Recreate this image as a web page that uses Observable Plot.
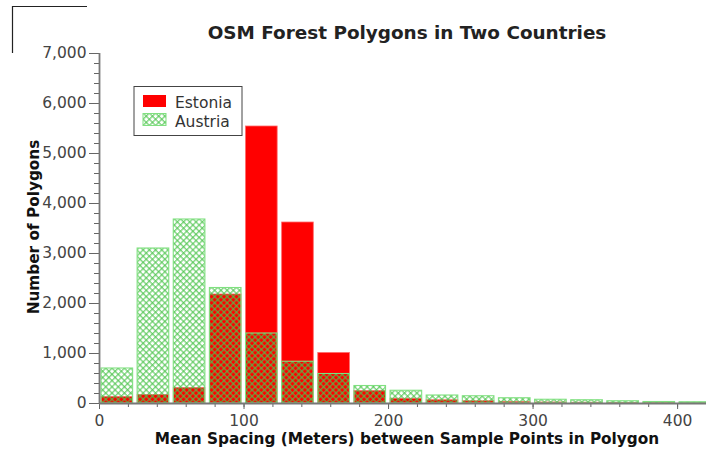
<!DOCTYPE html>
<html>
<head>
<meta charset="utf-8">
<script src="https://cdn.jsdelivr.net/npm/d3@7"></script>
<script src="https://cdn.jsdelivr.net/npm/@observablehq/plot@0.6"></script>
<style>
  body { margin: 0; background: #fff; }
  #wrap { position: relative; width: 706px; height: 451px; overflow: hidden; }
  #wrap > svg { position: absolute; left: 0; top: 0; }
</style>
</head>
<body>
<div id="wrap"></div>
<script>
// ---- data ----
const binStarts = [0, 25, 50, 75, 100, 125, 150, 175, 200, 225, 250, 275, 300, 325, 350, 375, 400];
const binWidth = 25;
const estonia = [130, 170, 310, 2180, 5540, 3620, 1010, 250, 95, 65, 45, 30, 20, 15, 10, 8, 5];
const austria = [700, 3100, 3680, 2310, 1400, 835, 590, 350, 255, 160, 145, 105, 75, 65, 45, 30, 25];
const seriesNames = ["Estonia", "Austria"];
const yMajorTicks = [0, 1000, 2000, 3000, 4000, 5000, 6000, 7000];
const yMinorTicks = d3.range(0, 7001, 200);
const xMajorTicks = [0, 100, 200, 300, 400];
const xMinorTicks = d3.range(0, 421, 20);

const table = binStarts.map((x0, i) => ({x1: x0, x2: x0 + binWidth, estonia: estonia[i], austria: austria[i]}));

const hatchGreen = "#4cc44c";

function makePattern(defsSel, id) {
  const p = defsSel.append("pattern")
    .attr("id", id)
    .attr("width", 4.4).attr("height", 4.4)
    .attr("patternUnits", "userSpaceOnUse")
    .attr("patternTransform", "rotate(45)");
  p.append("rect").attr("x", 0).attr("y", 0).attr("width", 4.4).attr("height", 1.4)
    .attr("fill", hatchGreen).attr("fill-opacity", 0.72);
  p.append("rect").attr("x", 0).attr("y", 0).attr("width", 1.4).attr("height", 4.4)
    .attr("fill", hatchGreen).attr("fill-opacity", 0.72);
}

const defsMark = () => {
  const d = d3.create("svg:defs");
  makePattern(d, "hatch");
  return d.node();
};

const chart = Plot.plot({
  width: 706,
  height: 451,
  marginTop: 53,
  marginBottom: 48,
  marginLeft: 99,
  marginRight: 0,
  x: {domain: [0, 420]},
  y: {domain: [0, 7000]},
  style: {fontFamily: "DejaVu Sans", fontSize: "15.5px", color: "#555", background: "transparent", overflow: "visible"},
  marks: [
    defsMark,
    Plot.rectY(table, {x1: "x1", x2: "x2", y: "estonia", fill: "#ff0000", stroke: "#ff6a6a", strokeWidth: 0.8, insetLeft: 2, insetRight: 2.5}),
    Plot.rectY(table, {x1: "x1", x2: "x2", y: "austria", fill: "url(#hatch)", stroke: "#80e080", strokeWidth: 1.1, insetLeft: 2, insetRight: 2.5}),
    Plot.axisY({ticks: yMinorTicks, tickSize: 5, tickFormat: () => "", label: null, stroke: "#666"}),
    Plot.axisY({ticks: yMajorTicks, tickSize: 10, tickPadding: 3, tickFormat: d3.format(","), label: null, stroke: "#666", fill: "#444"}),
    Plot.axisX({ticks: xMinorTicks, tickSize: 4, tickFormat: () => "", label: null, stroke: "#666"}),
    Plot.axisX({ticks: xMajorTicks, tickSize: 6, tickPadding: 5.5, tickFormat: d3.format("d"), label: null, stroke: "#666", fill: "#444"}),
    Plot.ruleX([0], {stroke: "#777", strokeWidth: 1.8}),
    Plot.ruleY([0], {stroke: "#777", strokeWidth: 1.8})
  ]
});
document.getElementById("wrap").appendChild(chart);

// ---- overlay: title, axis labels, legend ----
const ov = d3.select("#wrap").append("svg")
  .attr("width", 706).attr("height", 451)
  .style("font-family", "DejaVu Sans");
makePattern(ov.append("defs"), "hatch2");

ov.append("path").attr("d", "M12.5,53 V6.5 H87").attr("fill", "none").attr("stroke", "#222").attr("stroke-width", 1.2);

ov.append("text").attr("x", 407).attr("y", 38.5).attr("text-anchor", "middle")
  .attr("font-weight", "bold").attr("font-size", 18.4).attr("fill", "#222")
  .text("OSM Forest Polygons in Two Countries");

ov.append("text").attr("x", 407).attr("y", 443.5).attr("text-anchor", "middle")
  .attr("font-weight", "bold").attr("font-size", 15.3).attr("fill", "#111")
  .text("Mean Spacing (Meters) between Sample Points in Polygon");

ov.append("text").attr("transform", "translate(38.5,227) rotate(-90)").attr("text-anchor", "middle")
  .attr("font-weight", "bold").attr("font-size", 15.3).attr("fill", "#111")
  .text("Number of Polygons");

const lg = ov.append("g");
lg.append("rect").attr("x", 134).attr("y", 86.5).attr("width", 108).attr("height", 49)
  .attr("fill", "#fff").attr("stroke", "#444").attr("stroke-width", 1);
lg.append("rect").attr("x", 143).attr("y", 95).attr("width", 23).attr("height", 12)
  .attr("fill", "#ff0000");
lg.append("rect").attr("x", 143).attr("y", 113.5).attr("width", 23).attr("height", 12)
  .attr("fill", "url(#hatch2)").attr("stroke", "#80e080").attr("stroke-width", 1);
lg.append("text").attr("x", 175).attr("y", 107.5).attr("font-size", 15.5).attr("fill", "#333").text(seriesNames[0]);
lg.append("text").attr("x", 175).attr("y", 126.5).attr("font-size", 15.5).attr("fill", "#333").text(seriesNames[1]);
</script>
</body>
</html>
